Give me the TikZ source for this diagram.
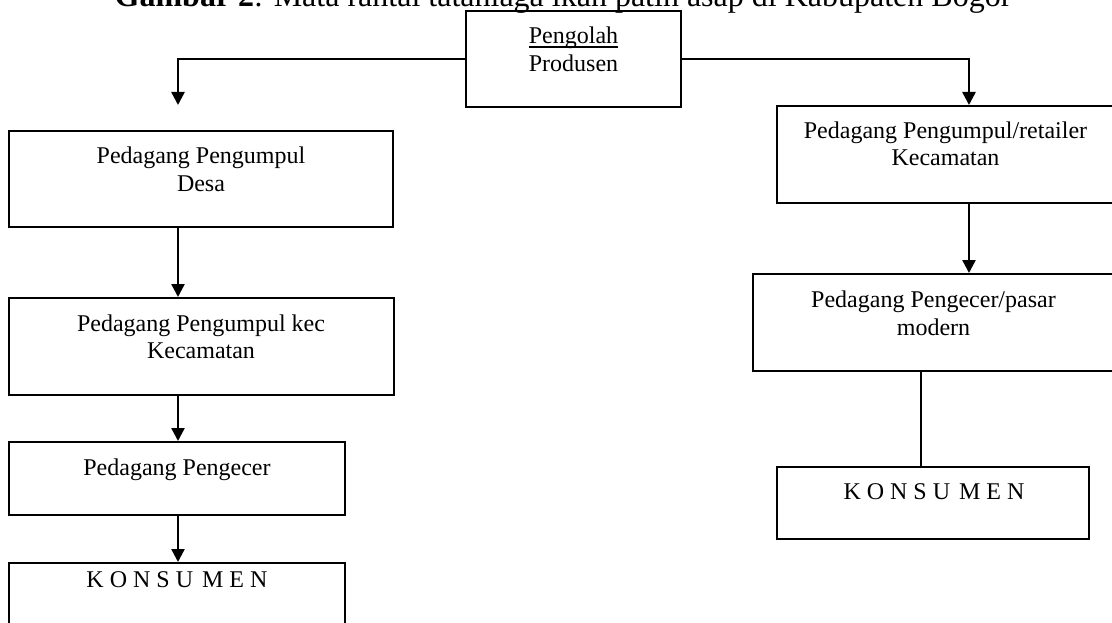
\documentclass[tikz,border=0pt]{standalone}
\usepackage{fontspec}
\setmainfont{Liberation Serif}
\usetikzlibrary{arrows.meta}
\begin{document}
\begin{tikzpicture}[x=1pt,y=-1pt,
  box/.style={draw,rectangle,line width=2pt,inner sep=0pt},
  txt/.style={anchor=base,inner sep=0pt,font=\fontsize{24}{28}\selectfont},
  arr/.style={line width=2.5pt,-{Triangle[length=13pt,width=13pt]}},
  plain/.style={line width=2pt}]
\useasboundingbox (0,0) rectangle (1112,623);
\clip (0,0) rectangle (1112,623);
% title
\node[anchor=base,inner sep=0pt,font=\fontsize{32}{38}\selectfont] (title) at (563,7)
  {\textbf{Gambar 2}: Mata rantai tataniaga ikan patin asap di Kabupaten Bogor};
% boxes
\node[box,minimum width=215pt,minimum height=96pt] (P)  at (573.5,59) {};
\node[box,minimum width=384pt,minimum height=96pt] (L1) at (201,179) {};
\node[box,minimum width=385pt,minimum height=97pt] (L2) at (201.5,346.5) {};
\node[box,minimum width=336pt,minimum height=73pt] (L3) at (177,478.5) {};
\node[box,minimum width=336pt,minimum height=90pt] (L4) at (177,608) {};
\node[box,minimum width=337pt,minimum height=97pt] (R1) at (945.5,154.5) {};
\node[box,minimum width=361pt,minimum height=97pt] (R2) at (933.5,322.5) {};
\node[box,minimum width=312pt,minimum height=72pt] (R3) at (933,503) {};
% texts
\node[txt] (Pa) at (573.5,43.5) {Pengolah};
\draw[line width=1.5pt] ([yshift=-3.5pt]Pa.base west) -- ([yshift=-3.5pt]Pa.base east);
\node[txt] (Pb) at (573.5,72) {Produsen};
\node[txt] (L1a) at (201,163.5) {Pedagang Pengumpul};
\node[txt] (L1b) at (201,191.5) {Desa};
\node[txt] (L2a) at (201,331.5) {Pedagang Pengumpul kec};
\node[txt] (L2b) at (201,358.5) {Kecamatan};
\node[txt] (L3a) at (177,475) {Pedagang Pengecer};
\node[txt] (L4a) at (177,587) {K O N S U\hspace{3pt} M E N};
\node[txt] (R1a) at (945.5,138.5) {Pedagang Pengumpul/retailer};
\node[txt] (R1b) at (945.5,166) {Kecamatan};
\node[txt] (R2a) at (933.5,307) {Pedagang Pengecer/pasar};
\node[txt] (R2b) at (933.5,335) {modern};
\node[txt] (R3a) at (934,499.5) {K O N S U\hspace{3pt} M E N};
% helper coordinates
\coordinate (lx) at (178,0);
\coordinate (rx) at (969,0);
\coordinate (rx2) at (921,0);
\coordinate (la) at (178,105);
% connectors
\draw[arr] (P.west) -| (la);
\draw[arr] (P.east) -| (R1.north -| rx);
\draw[arr] (L1.south -| lx) -- (L2.north -| lx);
\draw[arr] (L2.south -| lx) -- (L3.north -| lx);
\draw[arr] (L3.south -| lx) -- (L4.north -| lx);
\draw[arr] (R1.south -| rx) -- (R2.north -| rx);
\draw[plain] (R2.south -| rx2) -- (R3.north -| rx2);
\end{tikzpicture}
\end{document}
